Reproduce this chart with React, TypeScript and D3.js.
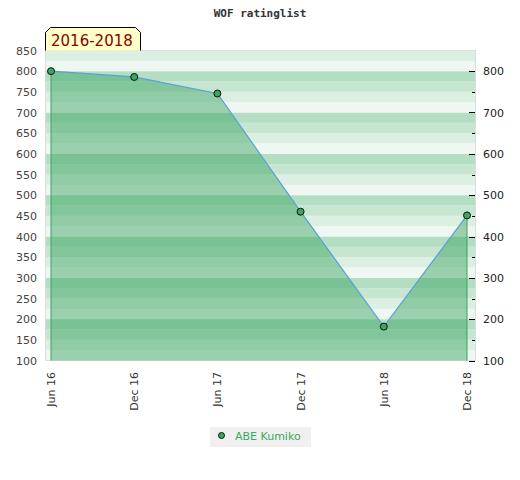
import React from "react";
import * as d3 from "d3";

const periods = ["Jun 16", "Dec 16", "Jun 17", "Dec 17", "Jun 18", "Dec 18"];
const ratings = [800, 786, 746, 460, 182, 451];
const leftTicks = [100, 150, 200, 250, 300, 350, 400, 450, 500, 550, 600, 650, 700, 750, 800, 850];
const rightTicks = [100, 200, 300, 400, 500, 600, 700, 800];
const rightMinor = [150, 250, 350, 450, 550, 650, 750];
const stripeColors = ["#eef7f1", "#dcefe3", "#c6e6d1", "#b3dec3"];

const W = 520;
const H = 480;
const plot = { left: 45.5, right: 475.5, top: 50.5, bottom: 360.5 };

export default function App() {
  const x = d3.scalePoint<string>().domain(periods).range([51, 467]);
  const y = d3.scaleLinear().domain([100, 850]).range([plot.bottom, plot.top]);

  const stripes = d3.range(100, 850, 25);
  const pts = periods.map((p, i) => ({ p, v: ratings[i] }));

  const area = d3
    .area<{ p: string; v: number }>()
    .x((d) => x(d.p)!)
    .y0(y(100))
    .y1((d) => y(d.v));
  const line = d3
    .line<{ p: string; v: number }>()
    .x((d) => x(d.p)!)
    .y((d) => y(d.v));

  const font = "DejaVu Sans, sans-serif";

  return (
    <div style={{ position: "absolute", left: 0, top: 0 }}>
      <svg width={W} height={H} viewBox={`0 0 ${W} ${H}`} style={{ display: "block" }}>
        <rect width={W} height={H} fill="#fff" />
        <text
          x={260}
          y={17}
          textAnchor="middle"
          fontFamily="DejaVu Sans Mono, monospace"
          fontWeight="bold"
          fontSize={11}
          fill="#333"
        >
          WOF ratinglist
        </text>

        {/* striped background */}
        {stripes.map((v, i) => (
          <rect
            key={v}
            x={plot.left}
            y={y(v + 25)}
            width={plot.right - plot.left}
            height={y(v) - y(v + 25)}
            fill={stripeColors[((v - 100) / 25) % 4]}
          />
        ))}
        <rect
          x={plot.left}
          y={plot.top}
          width={plot.right - plot.left}
          height={plot.bottom - plot.top}
          fill="none"
          stroke="#dcdcdc"
        />

        {/* area */}
        <path d={area(pts)!} fill="rgb(40,156,80)" fillOpacity={0.42} />
        <line x1={x(periods[0])} x2={x(periods[0])} y1={y(ratings[0])} y2={y(100)} stroke="#3aa35e" strokeWidth={1} />
        <line
          x1={x(periods[periods.length - 1])}
          x2={x(periods[periods.length - 1])}
          y1={y(ratings[ratings.length - 1])}
          y2={y(100)}
          stroke="#3aa35e"
          strokeWidth={1}
        />
        <path d={line(pts)!} fill="none" stroke="#5a9fd8" strokeWidth={1.2} />
        {pts.map((d) => (
          <circle key={d.p} cx={x(d.p)} cy={y(d.v)} r={3.5} fill="#3aa85c" stroke="#111" strokeWidth={1} />
        ))}

        {/* left axis labels */}
        {leftTicks.map((t) => (
          <text key={t} x={37} y={y(t) + 4} textAnchor="end" fontFamily={font} fontSize={11} fill="#444">
            {t}
          </text>
        ))}

        {/* right axis */}
        {rightTicks.map((t) => (
          <g key={t}>
            <line x1={469} x2={475} y1={Math.round(y(t)) + 0.5} y2={Math.round(y(t)) + 0.5} stroke="#000" />
            <text x={483} y={y(t) + 4} fontFamily={font} fontSize={11} fill="#222">
              {t}
            </text>
          </g>
        ))}
        {rightMinor.map((t) => (
          <line key={t} x1={472} x2={475} y1={Math.round(y(t)) + 0.5} y2={Math.round(y(t)) + 0.5} stroke="#000" />
        ))}

        {/* x labels */}
        {periods.map((p) => (
          <text
            key={p}
            transform={`translate(${x(p)! + 4},372) rotate(-90)`}
            textAnchor="end"
            fontFamily={font}
            fontSize={11}
            fill="#333"
          >
            {p}
          </text>
        ))}

        {/* period tab */}
        <path
          d="M45.5,50.5 L45.5,32.5 L50.5,27.5 L135.5,27.5 L140.5,32.5 L140.5,50.5"
          fill="#ffffc8"
          stroke="#000"
        />
        <text x={51} y={46} fontFamily={font} fontSize={15} fill="#8b0000">
          2016-2018
        </text>

        {/* legend */}
        <rect x={210} y={427} width={101} height={20} fill="#f0f0f0" />
        <circle cx={221.5} cy={435.5} r={3} fill="#3aa85c" stroke="#111" />
        <text x={235} y={440} fontFamily={font} fontSize={11} fill="#3aa85c">
          ABE Kumiko
        </text>
      </svg>
    </div>
  );
}
